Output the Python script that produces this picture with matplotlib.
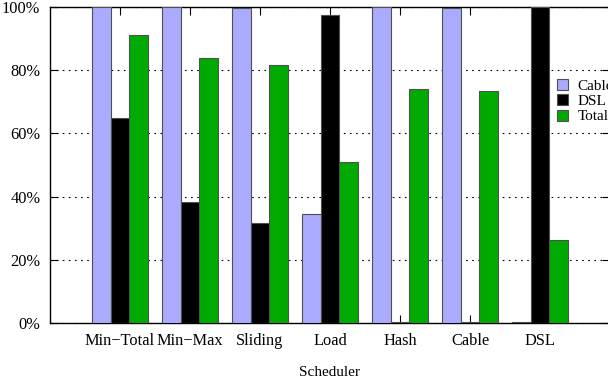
import numpy as np
import matplotlib
matplotlib.use("Agg")
import matplotlib.pyplot as plt
from matplotlib.ticker import FuncFormatter

plt.rcParams["font.family"] = ["Liberation Serif", "DejaVu Serif"]
plt.rcParams["font.size"] = 11.8

schedulers = ["Min\u2212Total", "Min\u2212Max", "Sliding", "Load", "Hash", "Cable", "DSL"]
cable = [100, 100, 99.5, 34.4, 100, 99.5, 0.3]
dsl = [64.7, 38.4, 31.6, 97.3, 0.3, 0.3, 100]
total = [91.1, 83.7, 81.6, 50.9, 74.0, 73.4, 26.3]

fig = plt.figure(figsize=(6.08, 3.81), dpi=100)
ax = fig.add_axes([50 / 608, 57.7 / 381, 560 / 608, 316.6 / 381])

x = np.arange(len(schedulers))
w = 0.262
edge = "#505050"
ax.bar(x - w, cable, w, color="#aaaaff", edgecolor=edge, linewidth=0.8, label="Cable", zorder=3)
ax.bar(x, dsl, w, color="black", edgecolor=edge, linewidth=0.8, label="DSL", zorder=3)
ax.bar(x + w, total, w, color="#00aa00", edgecolor=edge, linewidth=0.8, label="Total", zorder=3)

ax.set_xlim(-1, 7)
ax.set_ylim(0, 100)
ax.set_xticks(x)
ax.set_xticklabels(schedulers)
ax.set_yticks(np.arange(0, 101, 20))
ax.yaxis.set_major_formatter(FuncFormatter(lambda v, p: "%d%%" % v))
ax.tick_params(direction="in", length=6, width=0.8, top=True, right=True, pad=7)
ax.grid(axis="y", linestyle=(0, (1.5, 4)), color="black", linewidth=0.8, zorder=0)
for s in ax.spines.values():
    s.set_linewidth(1.0)

fig.text(330 / 608, 1 - 372 / 381, "Scheduler", ha="center", va="center", fontsize=11)

ax.legend(loc="upper left", bbox_to_anchor=(549 / 608, 1 - 71 / 381),
          bbox_transform=fig.transFigure, frameon=False, handlelength=0.75,
          handleheight=0.75, handletextpad=0.6, labelspacing=0.1, borderpad=0,
          fontsize=11)

fig.savefig("out.png", dpi=100)
